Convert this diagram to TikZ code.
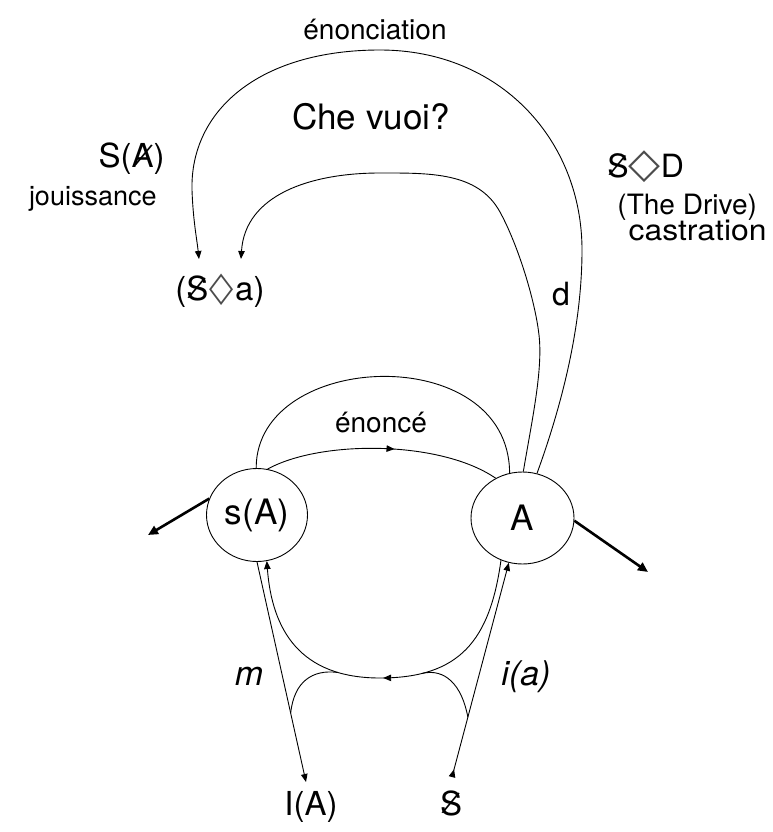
\documentclass[tikz,border=0pt]{standalone}
\usepackage{fontspec}
\setmainfont{TeX Gyre Heros}
\newfontfamily\dvfont{DejaVu Sans}
\usetikzlibrary{arrows.meta,shapes.geometric,decorations.markings}
\newcommand\fsz[1]{\fontsize{#1}{#1}\selectfont}
\newcommand\slsh{\rotatebox[origin=c]{-22}{/}}
\newcommand\barS{\ooalign{S\cr\hidewidth\slsh\hidewidth\cr}}
\newcommand\barA{\ooalign{A\cr\hidewidth\kern0.08em\slsh\hidewidth\cr}}
\newcommand\lozD{{\dvfont\color{black!70}\scalebox{1.3}{◇}}}
\newcommand\loza{{\dvfont\color{black!70}\scalebox{0.95}[1.25]{◇}}}
\tikzset{
  myarr/.tip={Triangle[length=8pt,width=6.5pt]},
  circ/.style={ellipse, draw, inner sep=0pt, line width=0.9pt, font=\fsz{35}},
  lbl/.style={inner sep=0pt},
  heavy/.style={line width=2.6pt, -{Triangle[length=10pt,width=9pt]}},
  midarr/.style={postaction={decorate},decoration={markings,mark=at position #1 with {\arrow{myarr}}}}
}
\begin{document}
\begin{tikzpicture}[x=1pt,y=-1pt,line width=0.9pt]
\useasboundingbox (0,0) rectangle (773,832);
% circles
\node[circ, minimum width=101pt, minimum height=93pt] (sA) at (257,515) {s(A)};
\node[circ, minimum width=103pt, minimum height=92pt] (A) at (522.5,518) {A};
% labels
\node[lbl, font=\fsz{28}, anchor=base] (enonciation) at (375,40) {énonciation};
\node[lbl, font=\fsz{35}, anchor=base] (chevuoi) at (371,130) {Che vuoi?};
\node[lbl, font=\fsz{33}, anchor=base east] (SA) at (165,167) {S(\barA)};
\node[lbl, font=\fsz{27}, anchor=base east] (jouis) at (157,205) {jouissance};
\node[lbl, font=\fsz{33}, anchor=base west] (Sa) at (175,300) {(\barS\kern0.04em\loza\kern0.04em a)};
\node[lbl, font=\fsz{32}, anchor=base] (d) at (561,305) {d};
\node[lbl, font=\fsz{32}, anchor=base west] (SD) at (607,177) {\barS\lozD D};
\node[lbl, font=\fsz{28}, anchor=base west] (drive) at (617,214) {(The Drive)};
\node[lbl, font=\fsz{29}, anchor=base east] (castr) at (767,240) {\scalebox{1.1}[1]{castration}};
\node[lbl, font=\fsz{28}, anchor=base] (enonce) at (381,432) {énoncé};
\node[lbl, font=\itshape\fsz{34}, anchor=base] (m) at (249,685) {m};
\node[lbl, font=\itshape\fsz{34}, anchor=base] (ia) at (526,685) {i(a)};
\node[lbl, font=\fsz{33}, anchor=base] (IA) at (311,815) {I(A)};
\node[lbl, font=\fsz{33}, anchor=base] (Sb) at (451,815) {\barS};
% free ends
\coordinate (tipL) at (199,259);
\coordinate (tipR) at (241,259);
\coordinate (IAtip) at (306,782);
\coordinate (Stip) at (452,777);
\coordinate (lend) at (148,535);
\coordinate (rend) at (648,572);
\coordinate (Ubot) at (380,678);
\coordinate (jL) at (338,672.5);
\coordinate (jR) at (422,673.4);
% upper connectors
\draw[midarr=0.55] (sA.77) .. controls (320,440) and (440,440) .. (A.124);
\draw (sA.91) .. controls (256,350) and (509,340) .. (A.106);
\draw[-myarr] (A.89) .. controls (532,420) and (543,370) .. (539,335)
   .. controls (535,300) and (518,245) .. (500,212)
   .. controls (478,172) and (430,173) .. (380,173)
   .. controls (310,173) and (245,195) .. (tipR);
\draw[-myarr] (A.72) .. controls (560,410) and (582,330) .. (582,250)
   .. controls (582,140) and (500,50) .. (380,50)
   .. controls (260,50) and (190,110) .. (192,190)
   .. controls (193,220) and (197,240) .. (tipL);
% heavy arrows
\draw[heavy] (sA.161) -- (lend);
\draw[heavy] (A.-3) -- (rend);
% lower connectors
\draw[-myarr, midarr=0.5] (A.243) .. controls (490,640) and (460,678) .. (Ubot)
   .. controls (300,678) and (272,630) .. (sA.282);
\draw[-myarr] (sA.270) -- coordinate[pos=0.687] (hookL) (IAtip);
\draw[{Triangle[length=8pt,width=6.5pt,reversed]}-myarr] (Stip) -- coordinate[pos=0.279] (hookR) (A.253);
\draw (hookL) .. controls (294,682) and (312,669) .. (jL);
\draw (hookR) .. controls (462,685) and (445,668) .. (jR);
\end{tikzpicture}
\end{document}
